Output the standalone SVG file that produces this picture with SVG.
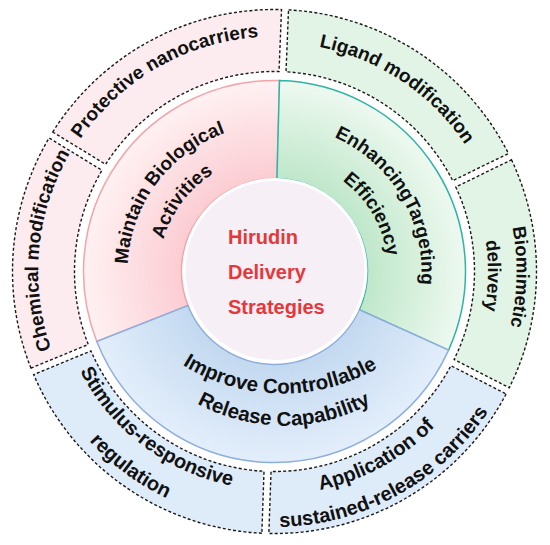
<svg xmlns="http://www.w3.org/2000/svg" width="550" height="545" viewBox="0 0 550 545">
<defs>
<radialGradient id="gRed" gradientUnits="userSpaceOnUse" cx="274.5" cy="271.5" r="191">
<stop offset="0.49" stop-color="#fbcdd3"/><stop offset="1" stop-color="#fff1f2"/>
</radialGradient>
<radialGradient id="gGreen" gradientUnits="userSpaceOnUse" cx="274.5" cy="271.5" r="191">
<stop offset="0.49" stop-color="#bfe7ca"/><stop offset="1" stop-color="#eef9f0"/>
</radialGradient>
<radialGradient id="gBlue" gradientUnits="userSpaceOnUse" cx="274.5" cy="271.5" r="191">
<stop offset="0.49" stop-color="#c3d9f0"/><stop offset="1" stop-color="#e3eefb"/>
</radialGradient>
<path id="pProt" d="M47.30,331.53 A235,235 0 0 1 441.25,105.91"/>
<path id="pLig" d="M123.66,99.20 A229,229 0 0 1 491.29,345.30"/>
<path id="pChem" d="M192.13,492.98 A236.3,236.3 0 0 1 235.09,38.51"/>
<path id="pBio1" d="M342.42,39.23 A242,242 0 0 1 331.82,506.62"/>
<path id="pBio2" d="M333.71,66.37 A213.5,213.5 0 0 1 325.79,478.75"/>
<path id="pStim1" d="M72.05,189.30 A218.5,218.5 0 0 0 408.72,443.91"/>
<path id="pStim2" d="M40.96,179.51 A251,251 0 0 0 430.75,467.94"/>
<path id="pApp1" d="M113.82,426.13 A223,223 0 0 0 490.97,217.93"/>
<path id="pApp2" d="M90.55,448.82 A255.5,255.5 0 0 0 522.47,209.90"/>
<path id="pMain1" d="M159.30,362.81 A147,147 0 0 1 328.61,134.82"/>
<path id="pMain2" d="M183.36,342.45 A115.5,115.5 0 0 1 317.95,164.49"/>
<path id="pEnh1" d="M235.22,129.85 A147,147 0 0 1 379.35,374.53"/>
<path id="pEnh2" d="M244.17,162.13 A113.5,113.5 0 0 1 355.45,351.05"/>
<path id="pImp1" d="M98.81,250.17 A189.5,189.5 0 0 0 464.85,255.92"/>
<path id="pImp2" d="M106.75,289.49 A183.5,183.5 0 0 0 461.25,289.49"/>
</defs>
<style>
.seg{stroke:#1a1a1a;stroke-width:1.4;stroke-dasharray:3 2.2;}
.pink{fill:#fdecef;}
.green{fill:#e2f4e5;}
.blue{fill:#deebf9;}
.lbl{font-family:"Liberation Sans",Arial,sans-serif;font-weight:bold;fill:#111;}
.ctr{font-family:"Liberation Sans",Arial,sans-serif;font-weight:bold;fill:#e5383a;font-size:20px;}
</style>
<rect width="550" height="545" fill="#ffffff"/>

<g id="chemical-modification">
<path class="seg pink" d="M30.96,368.10 A262,262 0 0 1 49.07,137.99 L101.99,170.30 A200,200 0 0 0 88.29,344.47 Z"/>
<text class="lbl" font-size="19"><textPath href="#pChem" startOffset="50%" text-anchor="middle">Chemical modification</textPath></text>
</g>
<g id="protective-nanocarriers">
<path class="seg pink" d="M52.71,132.02 A262,262 0 0 1 281.52,9.59 L279.03,71.55 A200,200 0 0 0 105.64,164.33 Z"/>
<text class="lbl" font-size="19"><textPath href="#pProt" startOffset="50%" text-anchor="middle">Protective nanocarriers</textPath></text>
</g>
<g id="ligand-modification">
<path class="seg green" d="M288.51,9.87 A262,262 0 0 1 508.43,153.51 L452.70,180.69 A200,200 0 0 0 286.02,71.83 Z"/>
<text class="lbl" font-size="19"><textPath href="#pLig" startOffset="50%" text-anchor="middle">Ligand modification</textPath></text>
</g>
<g id="biomimetic-delivery">
<path class="seg green" d="M511.50,159.80 A262,262 0 0 1 509.31,387.73 L454.11,359.48 A200,200 0 0 0 455.77,186.99 Z"/>
<text class="lbl" font-size="18.5"><textPath href="#pBio1" startOffset="50%" text-anchor="middle">Biomimetic</textPath></text>
<text class="lbl" font-size="18.5"><textPath href="#pBio2" startOffset="50%" text-anchor="middle">delivery</textPath></text>
</g>
<g id="application-sustained-release">
<path class="seg blue" d="M506.12,393.96 A262,262 0 0 1 268.85,533.44 L271.02,471.47 A200,200 0 0 0 450.92,365.71 Z"/>
<text class="lbl" font-size="20"><textPath href="#pApp1" startOffset="50%" text-anchor="middle">Application of</textPath></text>
<text class="lbl" font-size="20"><textPath href="#pApp2" startOffset="50%" text-anchor="middle">sustained-release carriers</textPath></text>
</g>
<g id="stimulus-responsive-regulation">
<path class="seg blue" d="M261.86,533.20 A262,262 0 0 1 33.63,374.57 L90.95,350.94 A200,200 0 0 0 264.02,471.23 Z"/>
<text class="lbl" font-size="20"><textPath href="#pStim1" startOffset="50%" text-anchor="middle">Stimulus-responsive</textPath></text>
<text class="lbl" font-size="20"><textPath href="#pStim2" startOffset="50%" text-anchor="middle">regulation</textPath></text>
</g>

<g id="maintain-biological-activities">
<path fill="url(#gRed)" stroke="#f5a3a9" stroke-width="1.5" d="M96.79,341.50 A191,191 0 0 1 279.50,80.57 L276.93,178.53 A93,93 0 0 0 187.97,305.58 Z"/>
<text class="lbl" font-size="19"><textPath href="#pMain1" startOffset="50%" text-anchor="middle">Maintain Biological</textPath></text>
<text class="lbl" font-size="19"><textPath href="#pMain2" startOffset="50%" text-anchor="middle">Activities</textPath></text>
</g>
<g id="enhancing-targeting-efficiency">
<path fill="url(#gGreen)" stroke="#2fb3a6" stroke-width="1.5" d="M279.50,80.57 A191,191 0 0 1 448.58,350.10 L359.26,309.77 A93,93 0 0 0 276.93,178.53 Z"/>
<text class="lbl" font-size="19"><textPath href="#pEnh1" startOffset="50%" text-anchor="middle">EnhancingTargeting</textPath></text>
<text class="lbl" font-size="19"><textPath href="#pEnh2" startOffset="50%" text-anchor="middle">Efficiency</textPath></text>
</g>
<g id="improve-controllable-release">
<path fill="url(#gBlue)" stroke="#8eaedc" stroke-width="1.5" d="M448.58,350.10 A191,191 0 0 1 96.79,341.50 L187.97,305.58 A93,93 0 0 0 359.26,309.77 Z"/>
<text class="lbl" font-size="20.5"><textPath href="#pImp1" startOffset="50%" text-anchor="middle">Improve Controllable</textPath></text>
<text class="lbl" font-size="20.5"><textPath href="#pImp2" startOffset="50%" text-anchor="middle">Release Capability</textPath></text>
</g>

<g id="hirudin-delivery-strategies">
<circle cx="275" cy="270.5" r="91" fill="#f7eff6" stroke="#ffffff" stroke-width="3"/>
<text class="ctr" x="228" y="244">Hirudin</text>
<text class="ctr" x="228" y="279.3">Delivery</text>
<text class="ctr" x="228" y="314.3">Strategies</text>
</g>
</svg>
